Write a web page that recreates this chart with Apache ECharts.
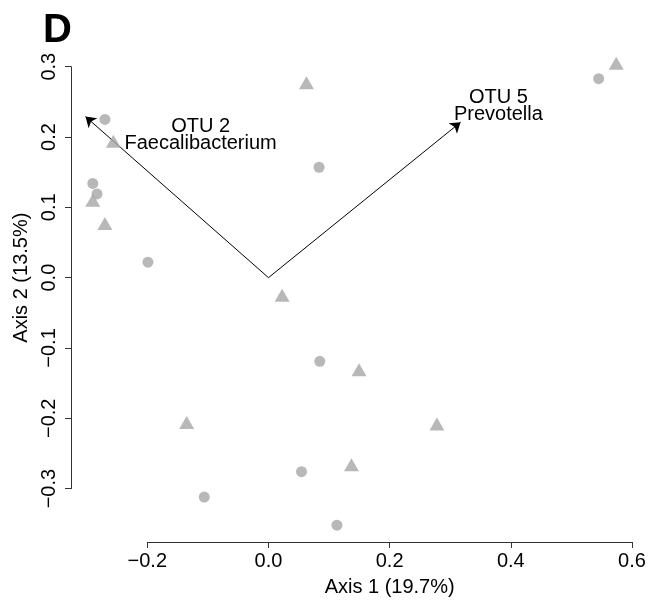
<!DOCTYPE html>
<html><head><meta charset="utf-8">
<script src="https://cdn.jsdelivr.net/npm/echarts@6/dist/echarts.min.js"></script>
<style>html,body{margin:0;padding:0;background:#fff}#c{width:649px;height:602px}</style>
</head><body><div id="c"></div>
<script>
// Sample scores (circles)
const circleX = [-0.270, -0.290, -0.283, -0.199, 0.0835, 0.545, 0.0847, 0.0545, -0.106, 0.113];
const circleY = [0.225, 0.134, 0.119, 0.022, 0.157, 0.283, -0.119, -0.276, -0.312, -0.352];
// Sample scores (triangles)
const triangleX = [-0.256, -0.290, -0.270, 0.0627, 0.574, 0.0225, 0.1495, -0.135, 0.278, 0.137];
const triangleY = [0.194, 0.110, 0.077, 0.277, 0.305, -0.025, -0.131, -0.206, -0.208, -0.266];
// Biplot arrows
const arrowTipX = [-0.302, 0.317];
const arrowTipY = [0.229, 0.221];
const arrowLabels = ['OTU 2\nFaecalibacterium', 'OTU 5\nPrevotella'];
const arrowLabelX = [-0.112, 0.3795];
const arrowLabelY = [0.2025, 0.2445];
// Axes
const xTicks = [-0.2, 0.0, 0.2, 0.4, 0.6];
const yTicks = [-0.3, -0.2, -0.1, 0.0, 0.1, 0.2, 0.3];
const xTitle = 'Axis 1 (19.7%)';
const yTitle = 'Axis 2 (13.5%)';
const panelLabel = 'D';

const FONT = '"Liberation Sans", Arial, Helvetica, sans-serif';
const fmt = v => (v < -1e-9 ? '\u2212' : '') + Math.abs(v).toFixed(1);
const grey = '#A6A6A6';

const chart = echarts.init(document.getElementById('c'), null, {renderer: 'canvas'});
chart.setOption({
  animation: false,
  backgroundColor: '#fff',
  title: {text: panelLabel, left: 43, top: 11, padding: 0,
    textStyle: {fontSize: 40, fontWeight: 'bold', fontFamily: FONT, color: '#000'}},
  grid: {left: 147.3, right: 17, top: 66.7, bottom: 112.7, containLabel: false},
  xAxis: {
    type: 'value', min: xTicks[0], max: xTicks[xTicks.length - 1], interval: 0.2,
    offset: 53.4,
    name: xTitle, nameLocation: 'middle', nameGap: 35,
    nameTextStyle: {fontSize: 20, fontFamily: FONT, color: '#000'},
    axisLine: {show: true, onZero: false, lineStyle: {color: '#333', width: 1}},
    axisTick: {show: true, inside: false, length: 6, lineStyle: {color: '#333'}},
    axisLabel: {fontSize: 20, fontFamily: FONT, color: '#000', margin: 9, formatter: fmt},
    splitLine: {show: false}
  },
  yAxis: {
    type: 'value', min: yTicks[0], max: yTicks[yTicks.length - 1], interval: 0.1,
    offset: 76.3,
    name: yTitle, nameLocation: 'middle', nameGap: 36, nameRotate: 90,
    nameTextStyle: {fontSize: 20, fontFamily: FONT, color: '#000'},
    axisLine: {show: true, onZero: false, lineStyle: {color: '#333', width: 1}},
    axisTick: {show: true, inside: false, length: 6, lineStyle: {color: '#333'}},
    axisLabel: {fontSize: 20, fontFamily: FONT, color: '#000', margin: 12, rotate: 90, formatter: fmt},
    splitLine: {show: false}
  },
  series: [
    {
      type: 'scatter', clip: false, symbol: 'circle', symbolSize: 11,
      itemStyle: {color: grey},
      data: circleX.map((x, i) => [x, circleY[i]])
    },
    {
      type: 'scatter', clip: false, symbol: 'triangle', symbolSize: [15, 13],
      itemStyle: {color: grey},
      data: triangleX.map((x, i) => [x, triangleY[i]])
    },
    {
      type: 'lines', coordinateSystem: 'cartesian2d', clip: false,
      symbol: ['none', 'arrow'], symbolSize: 10,
      lineStyle: {color: '#000', width: 1, opacity: 1, curveness: 0},
      data: arrowTipX.map((x, i) => ({coords: [[0, 0], [x, arrowTipY[i]]]}))
    },
    {
      type: 'scatter', clip: false, symbolSize: 1, itemStyle: {color: 'rgba(0,0,0,0)'},
      silent: true,
      label: {show: true, position: 'inside', color: '#000', opacity: 1, textBorderWidth: 0,
        fontSize: 20, lineHeight: 17, fontFamily: FONT, formatter: p => arrowLabels[p.dataIndex]},
      data: arrowLabelX.map((x, i) => [x, arrowLabelY[i]])
    }
  ]
});
</script></body></html>
